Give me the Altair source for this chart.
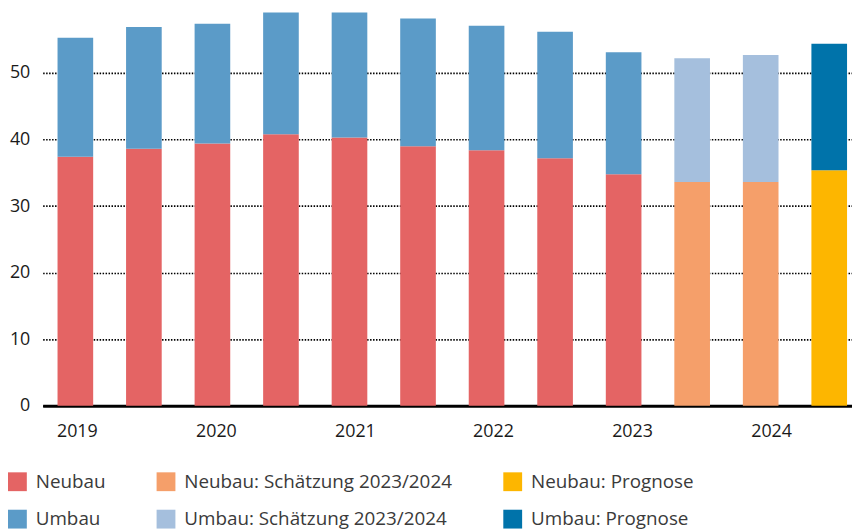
import altair as alt
import pandas as pd

periods = ["2019 H1", "2019 H2", "2020 H1", "2020 H2", "2021 H1", "2021 H2",
           "2022 H1", "2022 H2", "2023 H1", "2023 H2", "2024 H1", "2024 H2"]
status = ["Ist"] * 9 + ["Schätzung"] * 2 + ["Prognose"]
neubau = [37.4, 38.6, 39.4, 40.8, 40.3, 39.0, 38.4, 37.2, 34.8, 33.6, 33.6, 35.4]
umbau = [17.9, 18.3, 18.0, 18.3, 18.8, 19.2, 18.7, 19.0, 18.3, 18.6, 19.1, 19.0]

categories = ["Neubau", "Neubau: Schätzung 2023/2024", "Neubau: Prognose",
              "Umbau", "Umbau: Schätzung 2023/2024", "Umbau: Prognose"]
colors = ["#E46464", "#F59F6A", "#FDB600", "#5B9BC8", "#A5BFDD", "#0073AA"]
y_ticks = [0, 10, 20, 30, 40, 50]
year_offsets = {"2019 H1": 2, "2020 H1": 4, "2021 H1": 6, "2022 H1": 7,
                "2023 H1": 9, "2024 H1": 11}

suffix = {"Ist": "", "Schätzung": ": Schätzung 2023/2024", "Prognose": ": Prognose"}
rows = []
for p, s, n, u in zip(periods, status, neubau, umbau):
    rows.append({"period": p, "kat": "Neubau" + suffix[s], "part": 0, "value": n})
    rows.append({"period": p, "kat": "Umbau" + suffix[s], "part": 1, "value": u})
df = pd.DataFrame(rows)

font = "Open Sans"

chart = alt.Chart(df).mark_bar().encode(
    x=alt.X("period:N", sort=periods, title=None,
            scale=alt.Scale(paddingInner=0.48, paddingOuter=0.1446, align=0.75),
            axis=alt.Axis(
                labelExpr="indexof(datum.value, 'H1') >= 0 ? slice(datum.value, 0, 4) : ''",
                labelAngle=0, ticks=False, grid=False,
                domainColor="#000000", domainWidth=3,
                labelFont=font, labelFontSize=18, labelColor="#1a1a1a",
                labelPadding=17,
                labelOffset={"condition": [{"test": f"datum.value == '{k}'", "value": v}
                                           for k, v in year_offsets.items()],
                             "value": 0},
            )),
    y=alt.Y("value:Q", stack="zero", title=None,
            scale=alt.Scale(domain=[0, 59.1], nice=False, zero=True),
            axis=alt.Axis(values=y_ticks, ticks=False, domain=False,
                          grid=True, gridColor="#000000", gridDash=[1.5, 1.5],
                          gridWidth=1.6,
                          labelFont=font, labelFontSize=18, labelColor="#1a1a1a",
                          labelPadding=13)),
    color=alt.Color("kat:N", sort=categories,
                    scale=alt.Scale(domain=categories, range=colors),
                    legend=alt.Legend(
                        title=None, orient="none", legendX=-35, legendY=464,
                        columns=3, direction="horizontal",
                        symbolType="square", symbolSize=361, symbolStrokeWidth=0,
                        labelFont=font, labelFontSize=19, labelColor="#3a3a3a",
                        labelOffset=9, columnPadding=51, rowPadding=18,
                        labelLimit=400)),
    order=alt.Order("part:Q"),
).properties(
    width=817, height=397,
    autosize=alt.AutoSizeParams(type="none"),
    padding={"left": 35, "top": 2, "right": 0, "bottom": 124},
).configure_view(stroke=None)

chart.save("out.html", embed_options={"renderer": "svg", "actions": False})
